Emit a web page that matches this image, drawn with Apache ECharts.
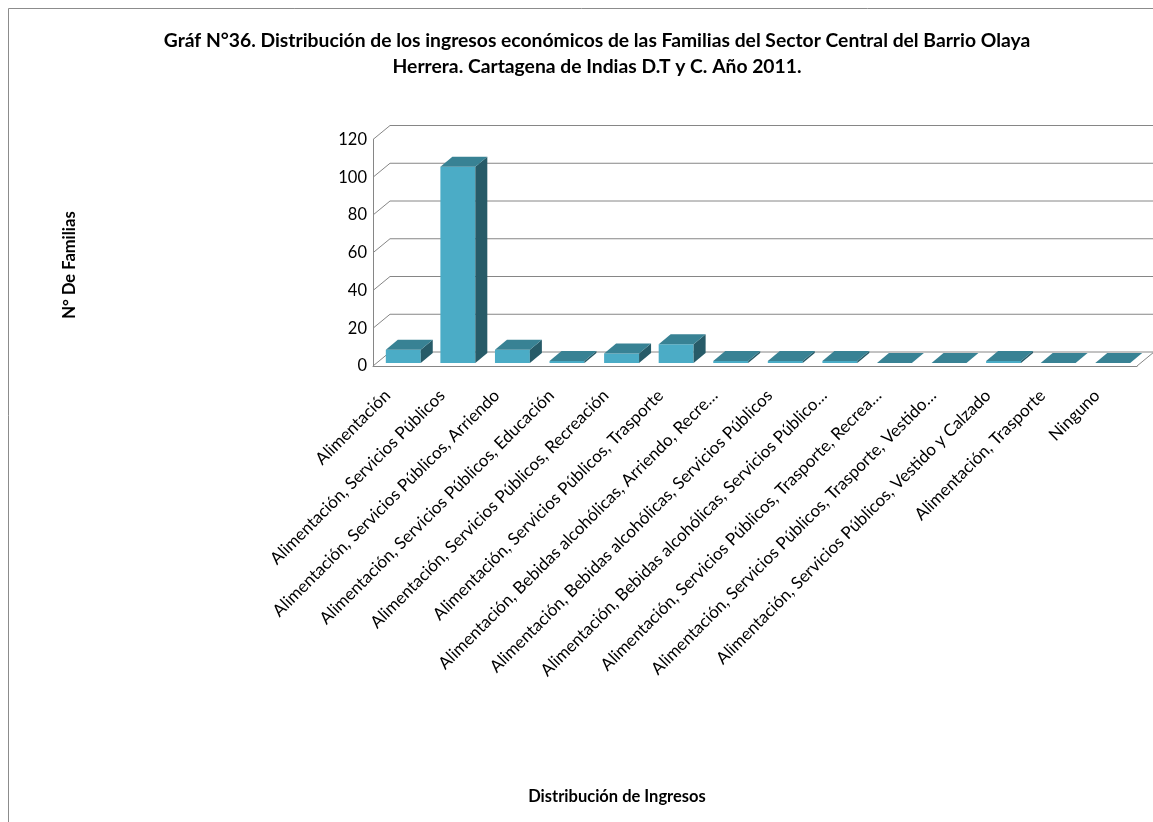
<!DOCTYPE html>
<html>
<head>
<meta charset="utf-8">
<script src="https://cdn.jsdelivr.net/npm/echarts@6/dist/echarts.min.js"></script>
<style>html,body{margin:0;padding:0;background:#fff}#c{width:1153px;height:822px}</style>
</head>
<body>
<div id="c"></div>
<script>
const titleLines = [
  'Gráf N°36. Distribución de los ingresos económicos de las Familias del Sector Central del Barrio Olaya',
  'Herrera. Cartagena de Indias D.T y C. Año 2011.'
];
const yAxisName = 'N° De Familias';
const xAxisName = 'Distribución de Ingresos';
const categories = [
  'Alimentación',
  'Alimentación, Servicios Públicos',
  'Alimentación, Servicios Públicos, Arriendo',
  'Alimentación, Servicios Públicos, Educación',
  'Alimentación, Servicios Públicos, Recreación',
  'Alimentación, Servicios Públicos, Trasporte',
  'Alimentación, Bebidas alcohólicas, Arriendo, Recre…',
  'Alimentación, Bebidas alcohólicas, Servicios Públicos',
  'Alimentación, Bebidas alcohólicas, Servicios Público…',
  'Alimentación, Servicios Públicos, Trasporte, Recrea…',
  'Alimentación, Servicios Públicos, Trasporte, Vestido…',
  'Alimentación, Servicios Públicos, Vestido y Calzado',
  'Alimentación, Trasporte',
  'Ninguno'
];
const values = [7, 104, 7, 1, 5, 10, 1, 1, 1, 0, 0, 1, 0, 0];
const yTicks = [0, 20, 40, 60, 80, 100, 120];

// 3D look parameters
const WALL_DX = 17, WALL_DY = -14;   // back wall offset
const BAR_OX = 3, BAR_OY = -3;       // bar front face offset from front plane
const BAR_DX = 12, BAR_DY = -10;     // bar depth
const BAR_W = 0.64;                  // bar width as share of category
const GRID_COLOR = '#868686';
const FONT = 'Lato, "Open Sans", sans-serif';

const chart = echarts.init(document.getElementById('c'), null, {renderer: 'canvas'});

const option = {
  backgroundColor: '#fff',
  animation: false,
  title: {
    text: titleLines.join('\n'),
    left: 592,
    top: 23,
    textAlign: 'center',
    textStyle: {fontFamily: FONT, fontSize: 19.3, fontWeight: 'bold', color: '#000', lineHeight: 26}
  },
  grid: {left: 373, right: 16, top: 139.5, bottom: 456, containLabel: false},
  xAxis: {
    type: 'category',
    data: categories,
    axisLine: {show: true, lineStyle: {color: GRID_COLOR, width: 1}},
    axisTick: {show: false},
    splitLine: {show: false},
    axisLabel: {
      interval: 0, rotate: 45, fontSize: 17, fontFamily: FONT, color: '#000',
      margin: 14, padding: [0, 18, 0, 0]
    }
  },
  yAxis: {
    type: 'value', min: 0, max: 120, interval: 20,
    axisLine: {show: true, lineStyle: {color: GRID_COLOR, width: 1}},
    axisTick: {show: false},
    splitLine: {show: false},
    axisLabel: {fontSize: 16.5, fontFamily: FONT, color: '#000', margin: 6}
  },
  graphic: [
    {type: 'rect', shape: {x: 8.5, y: 8.5, width: 1400, height: 1000}, style: {fill: 'none', stroke: '#8c8c8c', lineWidth: 1}, z: -10},
    {type: 'text', x: 70, y: 265, rotation: Math.PI / 2,
      style: {text: yAxisName, fontFamily: FONT, fontSize: 16.5, fontWeight: 'bold', fill: '#000', align: 'center', verticalAlign: 'middle'}},
    {type: 'text', x: 617, y: 797,
      style: {text: xAxisName, fontFamily: FONT, fontSize: 16.5, fontWeight: 'bold', fill: '#000', align: 'center', verticalAlign: 'middle'}}
  ],
  series: [
    {
      type: 'custom',
      name: 'frame',
      z: 1,
      silent: true,
      data: yTicks.map(v => [0, v]),
      renderItem: function (params, api) {
        const cs = params.coordSys;
        const v = api.value(1);
        const y = api.coord([0, v])[1];
        const left = cs.x, right = cs.x + cs.width;
        const children = [
          {type: 'line', shape: {x1: left, y1: y, x2: left + WALL_DX, y2: y + WALL_DY}, style: {stroke: GRID_COLOR, lineWidth: 1}},
          {type: 'line', shape: {x1: left + WALL_DX, y1: y + WALL_DY, x2: right + WALL_DX, y2: y + WALL_DY}, style: {stroke: GRID_COLOR, lineWidth: 1}}
        ];
        if (v === 0) {
          children.push({type: 'line', shape: {x1: right, y1: y, x2: right + WALL_DX, y2: y + WALL_DY}, style: {stroke: GRID_COLOR, lineWidth: 1}});
        }
        return {type: 'group', children: children};
      }
    },
    {
      type: 'custom',
      name: 'N° De Familias',
      z: 5,
      data: values.map((v, i) => [i, v]),
      renderItem: function (params, api) {
        const i = api.value(0), v = api.value(1);
        const base = api.coord([i, 0]);
        const top = api.coord([i, v]);
        const bw = api.size([1, 0])[0] * BAR_W;
        const x0 = base[0] - bw / 2 + BAR_OX;
        const x1 = x0 + bw;
        const yb = base[1] + BAR_OY;
        const yt = top[1] + BAR_OY;
        return {
          type: 'group',
          children: [
            {type: 'polygon', shape: {points: [[x0, yb], [x1, yb], [x1, yt], [x0, yt]]}, style: {fill: '#4BACC6'}},
            {type: 'polygon', shape: {points: [[x1, yb], [x1 + BAR_DX, yb + BAR_DY], [x1 + BAR_DX, yt + BAR_DY], [x1, yt]]}, style: {fill: '#275B68'}},
            {type: 'polygon', shape: {points: [[x0, yt], [x1, yt], [x1 + BAR_DX, yt + BAR_DY], [x0 + BAR_DX, yt + BAR_DY]]}, style: {fill: '#388294'}}
          ]
        };
      }
    }
  ]
};
chart.setOption(option);
</script>
</body>
</html>
